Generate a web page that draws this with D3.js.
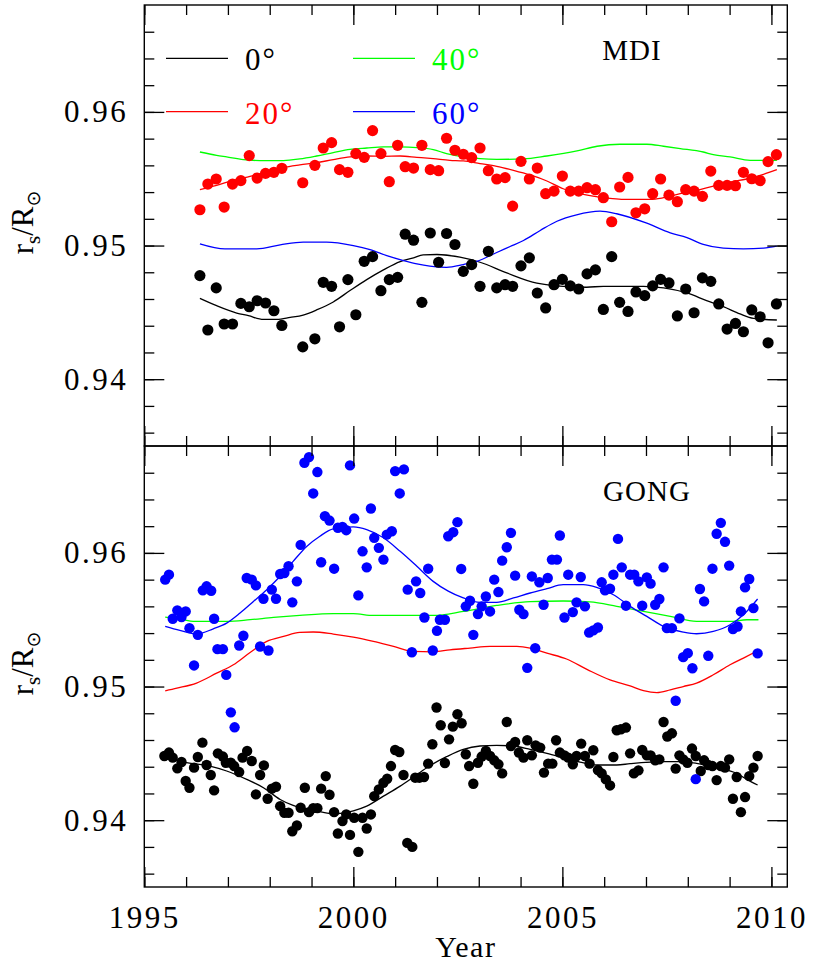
<!DOCTYPE html>
<html><head><meta charset="utf-8">
<script src="https://cdn.jsdelivr.net/npm/d3@7"></script>
<style>body{margin:0;background:#fff}svg{display:block}</style>
</head><body><svg id="chart" width="830" height="967"></svg>
<script>
// ---------------- DATA ----------------
const xMajorTicks = [1995, 2000, 2005, 2010];
const xMinorTicks = [1995,1996,1997,1998,1999,2000,2001,2002,2003,2004,2005,2006,2007,2008,2009,2010];
const xTickLabels = ["1995","2000","2005","2010"];
const yMajorTicks = [0.94, 0.95, 0.96];
const yMinorTicks = [0.936,0.938,0.940,0.942,0.944,0.946,0.948,0.950,0.952,0.954,0.956,0.958,0.960,0.962,0.964,0.966];
const yTickLabels = ["0.94","0.95","0.96"];
const legendLabels = ["0°","20°","40°","60°"];
const seriesColors = ["#000000","#ff0000","#00ff00","#0000ff"];
const panelLabels = ["MDI","GONG"];

// MDI data points (0° black, 20° red)
const mdiYear = [1996.33,1996.52,1996.72,1996.91,1997.11,1997.31,1997.51,1997.70,1997.90,1998.10,1998.29,1998.79,1999.08,1999.28,1999.48,1999.67,1999.87,2000.06,2000.26,2000.46,2000.66,2000.86,2001.06,2001.24,2001.44,2001.64,2001.84,2002.04,2002.23,2002.43,2002.63,2002.83,2003.03,2003.23,2003.43,2003.63,2003.81,2004.01,2004.21,2004.40,2004.60,2004.80,2005.00,2005.19,2005.39,2005.59,2005.79,2005.98,2006.18,2006.37,2006.57,2006.76,2006.97,2007.16,2007.35,2007.55,2007.75,2007.95,2008.15,2008.35,2008.55,2008.74,2008.94,2009.14,2009.33,2009.53,2009.73,2009.92,2010.12];
const mdi0 = [0.94775,0.94368,0.94683,0.94413,0.94413,0.94567,0.94542,0.94587,0.9457,0.94512,0.94402,0.94242,0.94302,0.94725,0.94695,0.94392,0.94745,0.94482,0.94882,0.94917,0.94662,0.94745,0.94762,0.95085,0.9504,0.94575,0.95094,0.94875,0.9509,0.95008,0.94807,0.94857,0.94695,0.94957,0.94683,0.94707,0.94695,0.94848,0.94908,0.94645,0.94533,0.94707,0.94747,0.94698,0.94675,0.94788,0.94818,0.94522,0.94917,0.94575,0.94507,0.94653,0.94625,0.94698,0.94747,0.9472,0.94473,0.94675,0.94497,0.94758,0.94732,0.94563,0.94375,0.94417,0.94355,0.94518,0.94467,0.94272,0.94563];
const mdi20 = [0.95268,0.9546,0.95498,0.95288,0.9546,0.95486,0.95673,0.95505,0.9554,0.95548,0.95578,0.9547,0.956,0.9573,0.9577,0.95568,0.95548,0.95688,0.9566,0.9586,0.95688,0.95478,0.9575,0.9559,0.9558,0.9575,0.95568,0.9556,0.95803,0.95713,0.95683,0.95658,0.9573,0.9556,0.95498,0.95508,0.95295,0.9563,0.95498,0.9558,0.95388,0.95407,0.9552,0.95407,0.95407,0.95433,0.95418,0.95358,0.95178,0.95438,0.9551,0.95245,0.95275,0.95388,0.95498,0.95377,0.95328,0.95418,0.95407,0.95368,0.95557,0.9545,0.9545,0.95448,0.95548,0.955,0.95486,0.95628,0.9568];

// MDI fitted curves
const mdi0LineYear = [1996.33,1996.73,1997.21,1997.49,1997.85,1998.17,1998.49,1998.80,1999.12,1999.52,1999.92,2000.32,2000.72,2001.12,2001.44,2001.67,2002.0,2002.55,2003.03,2003.67,2004.39,2004.78,2005.58,2005.98,2006.94,2007.42,2007.98,2008.45,2008.85,2009.25,2009.57,2010.13];
const mdi0Line = [0.94605,0.9455,0.94495,0.94475,0.94447,0.94447,0.94462,0.9448,0.94518,0.94578,0.94663,0.94745,0.94818,0.9488,0.94908,0.9493,0.94933,0.94913,0.94875,0.94795,0.94718,0.947,0.94688,0.94695,0.94695,0.94683,0.94645,0.94588,0.94543,0.94488,0.94455,0.94443];
const mdi20LineYear = [1996.33,1996.73,1997.13,1997.53,1997.93,1998.33,1998.72,1999.12,1999.52,1999.92,2000.32,2000.72,2001.12,2001.52,2001.91,2002.31,2002.63,2003.03,2003.43,2003.83,2004.23,2004.63,2005.02,2005.42,2006.14,2006.46,2007.10,2007.42,2007.82,2008.22,2008.61,2009.01,2009.41,2009.81,2010.13];
const mdi20Line = [0.95418,0.9545,0.95488,0.95518,0.9555,0.95583,0.95603,0.9562,0.95643,0.95663,0.9567,0.95668,0.9567,0.9566,0.9565,0.95638,0.95633,0.95613,0.95593,0.95563,0.95528,0.95483,0.95425,0.95388,0.95353,0.95345,0.95345,0.95358,0.95388,0.95413,0.95445,0.95475,0.95498,0.95533,0.95568];
const mdi40LineYear = [1996.33,1996.73,1996.97,1997.37,1997.77,1998.33,1998.72,1999.12,1999.52,1999.92,2000.32,2000.72,2001.12,2001.52,2001.91,2002.23,2002.63,2003.03,2003.43,2004.07,2004.63,2005.35,2005.83,2006.38,2007.02,2007.42,2007.82,2008.37,2008.61,2009.01,2009.49,2010.13];
const mdi40Line = [0.957,0.95675,0.95663,0.95643,0.95636,0.95636,0.95648,0.9567,0.95696,0.9572,0.9573,0.95738,0.95738,0.95733,0.95718,0.95688,0.95663,0.9565,0.95645,0.95648,0.9567,0.95708,0.95743,0.95758,0.95758,0.95743,0.95726,0.957,0.9568,0.95663,0.95638,0.95638];
const mdi60LineYear = [1996.33,1996.93,1997.69,1998.25,1998.80,1999.36,2000.0,2000.40,2000.80,2001.20,2001.52,2001.83,2002.23,2002.63,2002.95,2003.43,2003.75,2004.07,2004.47,2004.87,2005.34,2005.90,2006.30,2007.02,2007.58,2007.98,2008.37,2008.85,2009.33,2009.81,2010.13];
const mdi60Line = [0.95013,0.94975,0.94975,0.95005,0.95026,0.95026,0.95,0.9497,0.94925,0.94888,0.94863,0.94846,0.94837,0.94858,0.94882,0.94948,0.94993,0.95038,0.95113,0.95182,0.9523,0.95257,0.95238,0.95167,0.95095,0.9506,0.95008,0.9498,0.94975,0.9498,0.94995];

// GONG data points (0° black, 60° blue)
const gong0Year = [1995.48,1995.59,1995.68,1995.79,1995.89,1995.99,1996.08,1996.19,1996.28,1996.39,1996.49,1996.59,1996.67,1996.76,1996.88,1996.95,1997.07,1997.15,1997.27,1997.35,1997.46,1997.57,1997.67,1997.77,1997.86,1997.95,1998.05,1998.15,1998.25,1998.35,1998.45,1998.54,1998.65,1998.74,1998.84,1998.94,1999.04,1999.14,1999.23,1999.34,1999.43,1999.54,1999.63,1999.74,1999.83,1999.92,2000.02,2000.12,2000.22,2000.32,2000.42,2000.50,2000.61,2000.72,2000.81,2000.90,2001.00,2001.10,2001.20,2001.29,2001.41,2001.48,2001.58,2001.69,2001.79,2001.89,2001.99,2002.09,2002.19,2002.29,2002.38,2002.49,2002.59,2002.69,2002.77,2002.87,2002.98,2003.07,2003.17,2003.27,2003.37,2003.47,2003.56,2003.67,2003.77,2003.87,2003.96,2004.07,2004.16,2004.27,2004.36,2004.47,2004.56,2004.66,2004.76,2004.85,2004.94,2005.05,2005.14,2005.25,2005.34,2005.45,2005.54,2005.65,2005.74,2005.85,2005.94,2006.04,2006.14,2006.22,2006.30,2006.40,2006.52,2006.62,2006.71,2006.82,2006.91,2007.02,2007.11,2007.22,2007.32,2007.42,2007.51,2007.62,2007.71,2007.80,2007.89,2007.99,2008.10,2008.19,2008.31,2008.39,2008.49,2008.59,2008.69,2008.79,2008.89,2008.99,2009.08,2009.17,2009.27,2009.37,2009.47,2009.57,2009.67];
const gong0 = [0.9448,0.94506,0.94468,0.94388,0.94435,0.94293,0.94243,0.94393,0.94473,0.9458,0.94413,0.94338,0.94223,0.945,0.94476,0.9443,0.9443,0.94405,0.9436,0.94468,0.94518,0.94443,0.94193,0.94338,0.9441,0.9416,0.94236,0.9425,0.94105,0.94056,0.94056,0.93917,0.9396,0.94093,0.94243,0.9406,0.9409,0.9409,0.94236,0.9433,0.9419,0.9406,0.939,0.93993,0.94043,0.9389,0.94018,0.93763,0.94018,0.93938,0.94043,0.9418,0.9423,0.9428,0.9431,0.94405,0.94525,0.9451,0.94338,0.9383,0.938,0.94318,0.94318,0.94323,0.94423,0.94568,0.94843,0.9471,0.94428,0.94605,0.947,0.94793,0.94725,0.94493,0.94405,0.94273,0.9443,0.94476,0.94518,0.9448,0.94448,0.94418,0.9435,0.94735,0.94555,0.94585,0.94506,0.94468,0.94598,0.94485,0.9456,0.94543,0.94356,0.94423,0.94423,0.94598,0.94506,0.94485,0.94468,0.94418,0.9448,0.94573,0.9448,0.94423,0.94523,0.94375,0.9435,0.94305,0.9426,0.94473,0.94673,0.9468,0.94693,0.945,0.9435,0.94373,0.94525,0.94485,0.94485,0.94448,0.94455,0.94735,0.94626,0.9465,0.94386,0.94485,0.94455,0.9443,0.94536,0.9448,0.94368,0.94448,0.94413,0.94405,0.943,0.94405,0.94393,0.94455,0.9416,0.94323,0.9406,0.94173,0.9433,0.94393,0.9448];
const gong60Year = [1995.50,1995.59,1995.68,1995.79,1995.89,1995.99,1996.08,1996.19,1996.28,1996.40,1996.49,1996.60,1996.67,1996.75,1996.88,1996.96,1997.07,1997.16,1997.27,1997.37,1997.45,1997.57,1997.67,1997.77,1997.85,1997.97,1998.05,1998.15,1998.25,1998.35,1998.45,1998.54,1998.65,1998.74,1998.83,1998.94,1999.04,1999.14,1999.23,1999.32,1999.43,1999.54,1999.63,1999.74,1999.83,1999.92,2000.02,2000.12,2000.22,2000.32,2000.42,2000.50,2000.61,2000.72,2000.80,2000.92,2001.00,2001.11,2001.21,2001.30,2001.40,2001.50,2001.60,2001.70,2001.79,2001.90,2002.00,2002.07,2002.19,2002.27,2002.39,2002.49,2002.58,2002.69,2002.79,2002.87,2002.98,2003.07,2003.17,2003.27,2003.37,2003.47,2003.56,2003.67,2003.77,2003.87,2003.97,2004.07,2004.16,2004.27,2004.35,2004.45,2004.55,2004.65,2004.75,2004.87,2004.94,2005.05,2005.14,2005.25,2005.34,2005.44,2005.54,2005.64,2005.74,2005.85,2005.94,2006.02,2006.14,2006.22,2006.33,2006.42,2006.52,2006.62,2006.72,2006.82,2006.91,2007.02,2007.11,2007.22,2007.32,2007.42,2007.50,2007.62,2007.71,2007.80,2007.89,2008.00,2008.11,2008.19,2008.29,2008.39,2008.49,2008.59,2008.69,2008.79,2008.89,2008.99,2009.08,2009.19,2009.27,2009.37,2009.47,2009.57,2009.67];
const gong60 = [0.9580,0.95837,0.95507,0.9557,0.9552,0.95562,0.95437,0.95158,0.95387,0.9572,0.9575,0.95717,0.95507,0.9528,0.9528,0.95087,0.94807,0.94695,0.95307,0.9538,0.95812,0.958,0.95757,0.953,0.95657,0.9527,0.95725,0.95657,0.95842,0.9585,0.959,0.9563,0.95787,0.9606,0.96675,0.96717,0.96445,0.96605,0.9593,0.96275,0.96242,0.95882,0.96188,0.96195,0.9617,0.96655,0.96257,0.95682,0.96012,0.95892,0.96332,0.96113,0.96038,0.9595,0.96137,0.96162,0.96612,0.96445,0.96625,0.95725,0.95257,0.95787,0.957,0.95517,0.95882,0.9527,0.95417,0.955,0.955,0.96125,0.96155,0.9623,0.9588,0.956,0.95642,0.95387,0.95542,0.956,0.95674,0.95562,0.958,0.95707,0.95942,0.96042,0.9615,0.9583,0.95575,0.95542,0.9514,0.95824,0.95287,0.9578,0.95612,0.95812,0.9595,0.9595,0.9613,0.95517,0.95837,0.95557,0.9563,0.9582,0.956,0.95404,0.9542,0.95442,0.9578,0.9572,0.95732,0.95837,0.96105,0.95892,0.95605,0.95837,0.95837,0.95787,0.95605,0.95817,0.9577,0.95612,0.95655,0.95892,0.95437,0.95437,0.94894,0.9551,0.9522,0.9525,0.95137,0.94307,0.9573,0.95637,0.9523,0.95882,0.96143,0.96225,0.96083,0.95905,0.9543,0.95449,0.95562,0.95742,0.95805,0.95587,0.95248];

// GONG fitted curves
const gong0LineYear = [1995.50,1996.01,1996.57,1996.97,1997.45,1997.85,1998.25,1998.56,1999.04,1999.52,2000.0,2000.32,2000.72,2001.12,2001.44,2001.83,2002.23,2002.63,2003.03,2003.43,2003.83,2004.23,2004.63,2005.02,2005.42,2005.82,2006.30,2006.62,2007.42,2007.82,2008.21,2008.69,2009.17,2009.41,2009.67];
const gong0Line = [0.9447,0.9443,0.94405,0.94368,0.94305,0.94243,0.94155,0.9411,0.94075,0.94048,0.9407,0.94105,0.9418,0.94255,0.94323,0.94407,0.94475,0.9453,0.94555,0.9456,0.94555,0.9453,0.945,0.94468,0.94435,0.94413,0.94413,0.94423,0.94438,0.94438,0.94425,0.94393,0.9435,0.94305,0.94263];
const gong20LineYear = [1995.50,1995.78,1996.25,1996.73,1997.13,1997.53,1997.93,1998.33,1998.72,1999.04,1999.52,2000.0,2000.48,2000.96,2001.43,2001.91,2002.31,2002.79,2003.27,2003.91,2004.23,2004.63,2005.10,2005.61,2006.14,2006.62,2006.94,2007.26,2007.58,2007.89,2008.21,2008.61,2009.01,2009.33,2009.67];
const gong20Line = [0.94968,0.94988,0.95026,0.951,0.95163,0.95255,0.95338,0.95375,0.95405,0.95408,0.95393,0.9537,0.95338,0.953,0.95263,0.9526,0.95275,0.95288,0.953,0.953,0.95288,0.9525,0.95206,0.95125,0.9505,0.95005,0.9497,0.94955,0.94975,0.95,0.95026,0.95088,0.95163,0.95213,0.95268];
const gong40LineYear = [1995.50,1995.93,1996.17,1996.97,1997.53,1998.09,1998.72,1999.52,2000.0,2000.48,2001.12,2001.91,2002.63,2003.43,2004.23,2005.02,2005.66,2006.30,2006.94,2007.58,2008.21,2009.01,2009.41,2009.69];
const gong40Line = [0.9552,0.955,0.95487,0.95487,0.955,0.95517,0.95532,0.95545,0.95545,0.95532,0.95532,0.95532,0.95562,0.95607,0.95635,0.9564,0.95633,0.956,0.95562,0.95525,0.95487,0.95487,0.955,0.955];
const gong60LineYear = [1995.50,1995.85,1996.25,1996.65,1996.97,1997.29,1997.61,1997.93,1998.25,1998.56,1998.89,1999.20,1999.52,2000.0,2000.32,2000.72,2001.12,2001.52,2001.91,2002.27,2002.63,2003.03,2003.43,2003.83,2004.23,2004.63,2005.02,2005.50,2005.82,2006.22,2006.62,2007.02,2007.42,2007.89,2008.21,2008.61,2009.01,2009.33,2009.67];
const gong60Line = [0.9545,0.9542,0.95393,0.95432,0.95475,0.9555,0.95637,0.95725,0.95825,0.95937,0.9605,0.96125,0.9618,0.96195,0.96175,0.96113,0.96012,0.959,0.95787,0.95714,0.95663,0.9563,0.9563,0.95663,0.957,0.95732,0.95762,0.95762,0.95742,0.95687,0.956,0.95525,0.9545,0.95408,0.95395,0.95412,0.95462,0.95537,0.95655];

// ---------------- DRAWING ----------------
const FONT = "'Liberation Serif','DejaVu Serif',serif";
const svg = d3.select("#chart");
svg.append("rect").attr("width",830).attr("height",967).attr("fill","#fff");

const X0 = 144.3, X1 = 787.3;
const x = d3.scaleLinear().domain([1995, 2010.38]).range([X0, X1]);
const zip = (a, b) => a.map((v, i) => [v, b[i]]);

const panels = [
  { label: panelLabels[0], top: 5, bottom: 446, labelX: 632, labelY: 60,
    lines: [[mdi0LineYear, mdi0Line, 0],[mdi20LineYear, mdi20Line, 1],[mdi40LineYear, mdi40Line, 2],[mdi60LineYear, mdi60Line, 3]],
    dots: [[mdiYear, mdi0, 0],[mdiYear, mdi20, 1]], r: 5.6 },
  { label: panelLabels[1], top: 446, bottom: 887, labelX: 647, labelY: 501,
    lines: [[gong0LineYear, gong0Line, 0],[gong20LineYear, gong20Line, 1],[gong40LineYear, gong40Line, 2],[gong60LineYear, gong60Line, 3]],
    dots: [[gong0Year, gong0, 0],[gong60Year, gong60, 3]], r: 5.2 }
];

panels.forEach((p, pi) => {
  const y = d3.scaleLinear().domain([0.935, 0.968]).range([p.bottom, p.top]);
  const g = svg.append("g");

  // lines
  const line = d3.line().x(d => x(d[0])).y(d => y(d[1])).curve(d3.curveMonotoneX);
  p.lines.forEach(([xs, ys, ci]) => {
    g.append("path").attr("d", line(zip(xs, ys)))
      .attr("fill","none").attr("stroke", seriesColors[ci]).attr("stroke-width",1.3);
  });
  // dots
  p.dots.forEach(([xs, ys, ci]) => {
    g.append("g").selectAll("circle").data(zip(xs, ys)).join("circle")
      .attr("cx", d => x(d[0])).attr("cy", d => y(d[1])).attr("r", p.r)
      .attr("fill", seriesColors[ci]);
  });

  // axes (inward ticks on all sides)
  const styleAxis = sel => {
    sel.select(".domain").remove();
    sel.selectAll(".tick line").attr("stroke","#000").attr("stroke-width",1.3);
    sel.selectAll("text").style("font-family",FONT).style("font-size","31px")
      .style("letter-spacing","2.5px").attr("fill","#000");
  };
  const addAx = (axis, tx, ty) => g.append("g").attr("transform",`translate(${tx},${ty})`).call(axis).call(styleAxis);

  // left
  addAx(d3.axisLeft(y).tickValues(yMinorTicks).tickSize(-10).tickFormat(""), X0, 0);
  addAx(d3.axisLeft(y).tickValues(yMajorTicks).tickSize(-20).tickPadding(16)
      .tickFormat((d,i) => yTickLabels[i]), X0, 0);
  // right
  addAx(d3.axisRight(y).tickValues(yMinorTicks).tickSize(-10).tickFormat(""), X1, 0);
  addAx(d3.axisRight(y).tickValues(yMajorTicks).tickSize(-20).tickFormat(""), X1, 0);
  // top
  addAx(d3.axisTop(x).tickValues(xMinorTicks).tickSize(-10).tickFormat(""), 0, p.top);
  addAx(d3.axisTop(x).tickValues(xMajorTicks).tickSize(-20).tickFormat(""), 0, p.top);
  // bottom
  addAx(d3.axisBottom(x).tickValues(xMinorTicks).tickSize(-10).tickFormat(""), 0, p.bottom);
  addAx(d3.axisBottom(x).tickValues(xMajorTicks).tickSize(-20).tickPadding(19)
      .tickFormat((d,i) => pi === 1 ? xTickLabels[i] : ""), 0, p.bottom);

  // frame
  g.append("rect").attr("x", X0).attr("y", p.top).attr("width", X1 - X0).attr("height", p.bottom - p.top)
    .attr("fill","none").attr("stroke","#000").attr("stroke-width",1.4);

  // panel label
  g.append("text").attr("x", p.labelX).attr("y", p.labelY).attr("text-anchor","middle")
    .style("font-family",FONT).style("font-size","29px").style("letter-spacing","1px").text(p.label);

  // y-axis label r_s / R_sun
  const cy = (p.top + p.bottom) / 2 - 3;
  const t = g.append("text").attr("transform",`translate(33,${cy}) rotate(-90)`).attr("text-anchor","middle")
    .style("font-family",FONT).style("font-size","31px");
  t.append("tspan").text("r");
  t.append("tspan").attr("dy",7).style("font-size","21px").text("s");
  t.append("tspan").attr("dy",-7).text("/R");
  t.append("tspan").attr("dy",7).style("font-size","19px").style("font-family","'DejaVu Sans',sans-serif").text("\u2299");
});

// legend (top panel)
const legendPos = [[166, 58.3], [166, 111.7], [353, 58.3], [353, 111.7]];
legendLabels.forEach((lab, i) => {
  const [lx, ly] = legendPos[i];
  svg.append("line").attr("x1", lx).attr("x2", lx + 62).attr("y1", ly).attr("y2", ly)
    .attr("stroke", seriesColors[i]).attr("stroke-width", 1.3);
  svg.append("text").attr("x", lx + 79).attr("y", ly + 12).attr("fill", seriesColors[i])
    .style("font-family",FONT).style("font-size","31px").style("letter-spacing","2px").text(lab);
});

// x-axis title
svg.append("text").attr("x", (X0 + X1) / 2).attr("y", 957).attr("text-anchor","middle")
  .style("font-family",FONT).style("font-size","30px").style("letter-spacing","1.5px").text("Year");
</script>
</body></html>
